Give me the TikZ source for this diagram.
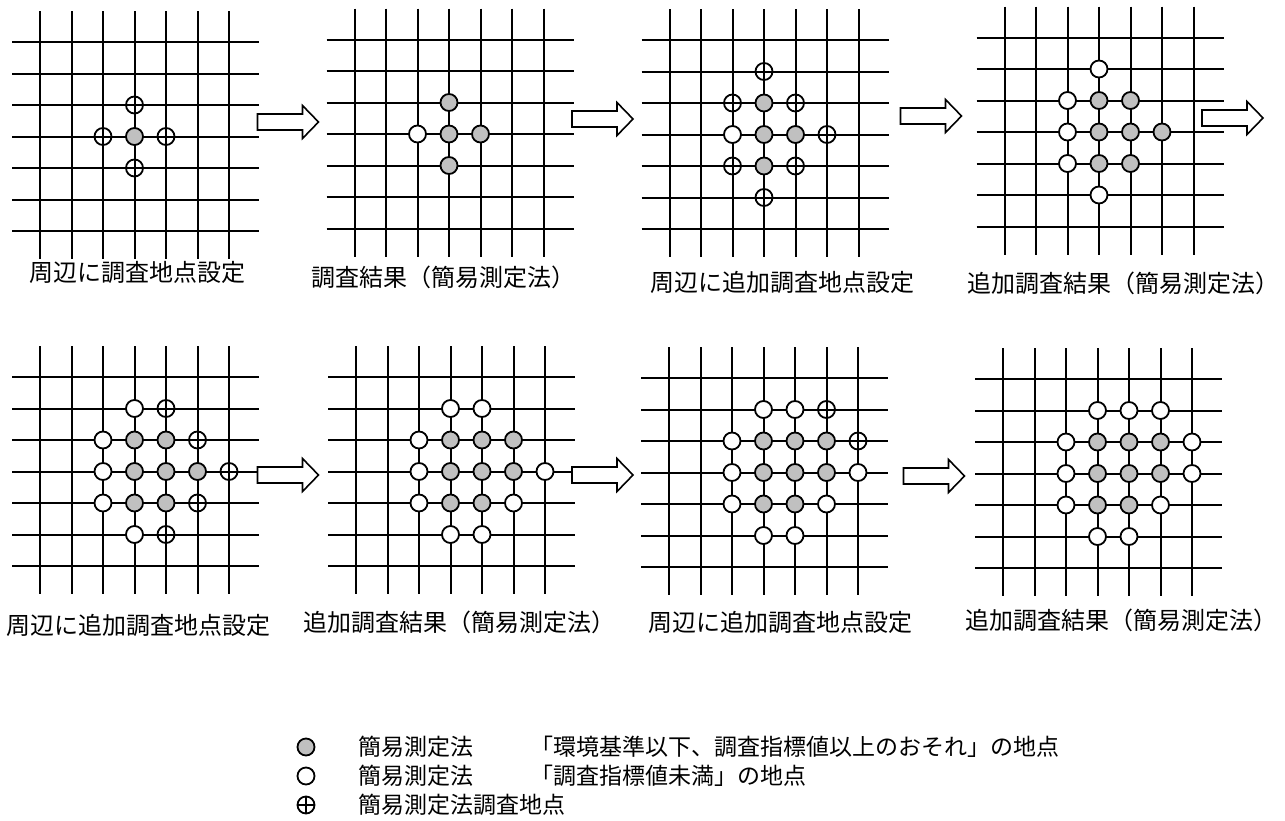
\documentclass[tikz,border=0pt]{standalone}
\usepackage{fontspec}
\usepackage{tikz}
\usetikzlibrary{arrows.meta, positioning}
\newfontfamily\jpfont{Noto Sans CJK JP}
\definecolor{sitegray}{HTML}{C0C0C0}
% one 7x7 grid of survey lines, centred at (#1,#2)
\newcommand{\sitegrid}[2]{%
  \foreach \k in {-3,...,3} {
    \draw[gridline] (#1+\k*31.5, #2-125.5) -- (#1+\k*31.5, #2+122.5);
    \draw[gridline] (#1-122.5, #2+\k*31.5) -- (#1+124.5, #2+\k*31.5);
  }}
% survey points on grid #5, centred at (#1,#2), style #3, list col/row #4
\newcommand{\sites}[5]{%
  \foreach \c/\r in {#4}
    \node[#3] (#5-\c-\r) at (#1+\c*31.5-94.5, #2+\r*31.5-94.5) {};}
% block arrow centred at (#1,#2)
\newcommand{\nextstep}[2]{%
  \draw[steparrow] (#1-30.5,#2-8) -- (#1+14.5,#2-8) -- (#1+14.5,#2-16.5)
    -- (#1+30.5,#2) -- (#1+14.5,#2+16.5) -- (#1+14.5,#2+8)
    -- (#1-30.5,#2+8) -- cycle;}

\begin{document}
\begin{tikzpicture}[x=0.5pt, y=-0.5pt,
    gridline/.style={line width=1pt},
    steparrow/.style={draw, line width=0.8pt, fill=white},
    site/.style={circle, draw, line width=0.9pt, inner sep=0pt, minimum size=8.5pt},
    graysite/.style={site, fill=sitegray},
    whitesite/.style={site, fill=white},
    plussite/.style={site, path picture={
        \draw[line width=0.8pt] (path picture bounding box.north) -- (path picture bounding box.south);
        \draw[line width=0.8pt] (path picture bounding box.west) -- (path picture bounding box.east);}},
    caption/.style={font=\jpfont\fontsize{12pt}{14pt}\selectfont, inner sep=0pt},
    legendtext/.style={font=\jpfont\fontsize{11.5pt}{13pt}\selectfont, inner sep=0pt, anchor=west}]
  \useasboundingbox (0,0) rectangle (1285,820);

  % Grid 1
  \sitegrid{134.5}{136.5}
  \sites{134.5}{136.5}{graysite}{3/3}{g1}
  \sites{134.5}{136.5}{plussite}{3/2, 2/3, 4/3, 3/4}{g1}
  \node[caption] (c1) at (137,272) {周辺に調査地点設定};
  \nextstep{288}{122}

  % Grid 2
  \sitegrid{449}{134}
  \sites{449}{134}{graysite}{3/2, 3/3, 4/3, 3/4}{g2}
  \sites{449}{134}{whitesite}{2/3}{g2}
  \node[caption] (c2) at (443,277) {調査結果（簡易測定法）};
  \nextstep{602.5}{119}

  % Grid 3
  \sitegrid{764}{134.5}
  \sites{764}{134.5}{graysite}{3/2, 3/3, 4/3, 3/4}{g3}
  \sites{764}{134.5}{whitesite}{2/3}{g3}
  \sites{764}{134.5}{plussite}{3/1, 2/2, 4/2, 5/3, 2/4, 4/4, 3/5}{g3}
  \node[caption] (c3) at (782,282) {周辺に追加調査地点設定};
  \nextstep{931}{116}

  % Grid 4
  \sitegrid{1099}{132}
  \sites{1099}{132}{graysite}{3/2, 4/2, 3/3, 4/3, 5/3, 3/4, 4/4}{g4}
  \sites{1099}{132}{whitesite}{3/1, 2/2, 2/3, 2/4, 3/5}{g4}
  \node[caption] (c4) at (1123,283) {追加調査結果（簡易測定法）};
  \nextstep{1232.5}{118}

  % Grid 5
  \sitegrid{134.5}{471.5}
  \sites{134.5}{471.5}{graysite}{3/2, 4/2, 3/3, 4/3, 5/3, 3/4, 4/4}{g5}
  \sites{134.5}{471.5}{whitesite}{3/1, 2/2, 2/3, 2/4, 3/5}{g5}
  \sites{134.5}{471.5}{plussite}{4/1, 5/2, 6/3, 5/4, 4/5}{g5}
  \node[caption] (c5) at (138,625) {周辺に追加調査地点設定};
  \nextstep{288}{475}

  % Grid 6
  \sitegrid{450.5}{471.5}
  \sites{450.5}{471.5}{graysite}{3/2, 4/2, 5/2, 3/3, 4/3, 5/3, 3/4, 4/4}{g6}
  \sites{450.5}{471.5}{whitesite}{3/1, 4/1, 2/2, 2/3, 6/3, 2/4, 5/4, 3/5, 4/5}{g6}
  \node[caption] (c6) at (459,622) {追加調査結果（簡易測定法）};
  \nextstep{602.5}{475}

  % Grid 7
  \sitegrid{763.5}{472.5}
  \sites{763.5}{472.5}{graysite}{3/2, 4/2, 5/2, 3/3, 4/3, 5/3, 3/4, 4/4}{g7}
  \sites{763.5}{472.5}{whitesite}{3/1, 4/1, 2/2, 2/3, 6/3, 2/4, 5/4, 3/5, 4/5}{g7}
  \sites{763.5}{472.5}{plussite}{5/1, 6/2}{g7}
  \node[caption] (c7) at (780,622) {周辺に追加調査地点設定};
  \nextstep{934}{476}

  % Grid 8
  \sitegrid{1097.5}{473.5}
  \sites{1097.5}{473.5}{graysite}{3/2, 4/2, 5/2, 3/3, 4/3, 5/3, 3/4, 4/4}{g8}
  \sites{1097.5}{473.5}{whitesite}{3/1, 4/1, 5/1, 2/2, 6/2, 2/3, 6/3, 2/4, 5/4, 3/5, 4/5}{g8}
  \node[caption] (c8) at (1121,620) {追加調査結果（簡易測定法）};

  % Legend
  \node[graysite] (k1) at (306,747) {};
  \node[whitesite] (k2) at (306,776) {};
  \node[plussite] (k3) at (306,805) {};
  \node[legendtext] (k1a) at (358,747) {簡易測定法};
  \node[legendtext] (k1b) at (530,747) {「環境基準以下、調査指標値以上のおそれ」の地点};
  \node[legendtext] (k2a) at (358,776) {簡易測定法};
  \node[legendtext] (k2b) at (530,776) {「調査指標値未満」の地点};
  \node[legendtext] (k3a) at (358,805) {簡易測定法調査地点};
\end{tikzpicture}
\end{document}
